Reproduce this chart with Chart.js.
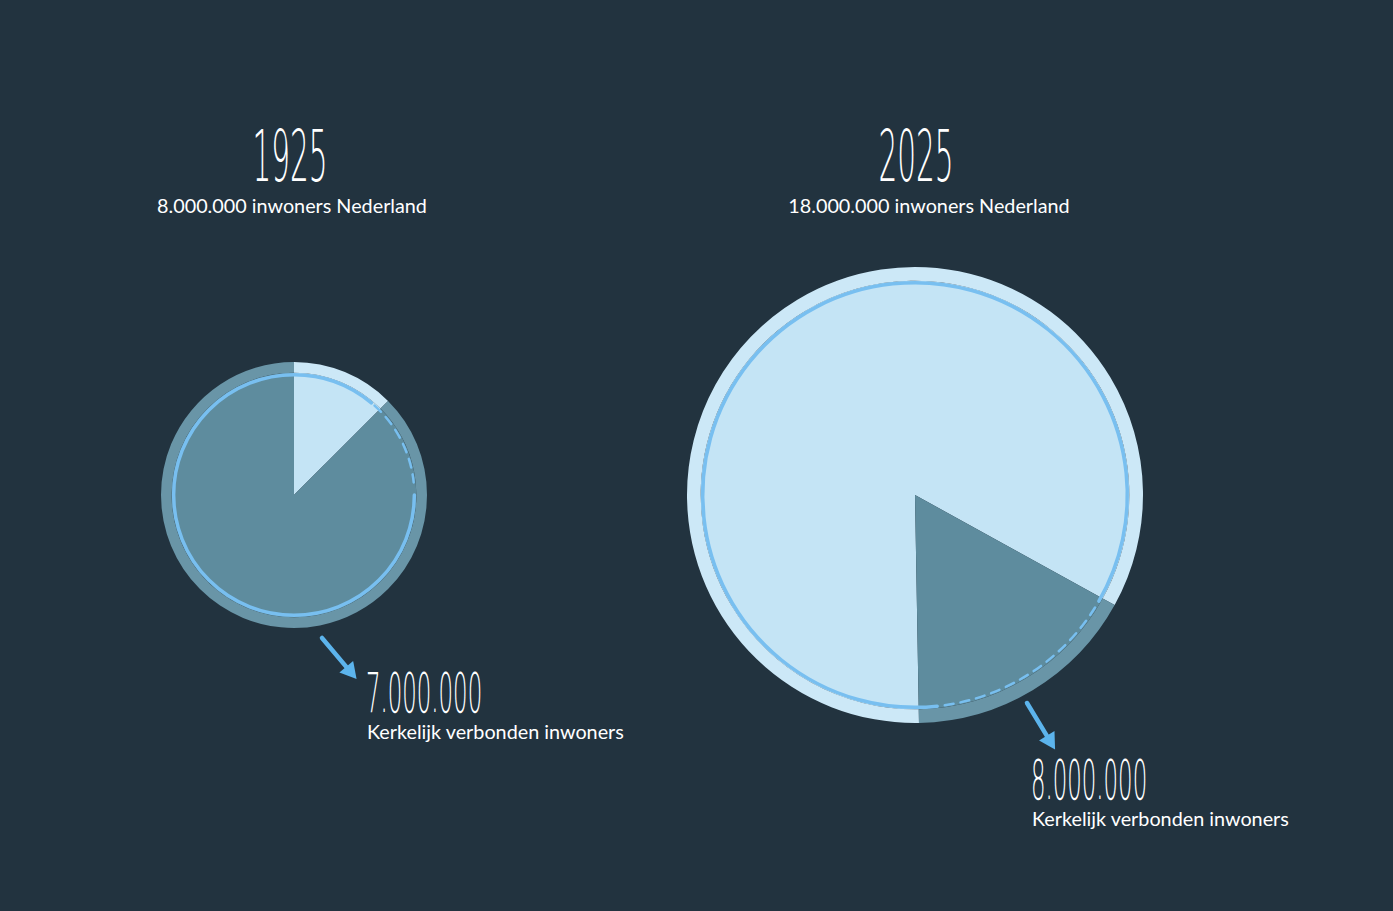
<!DOCTYPE html>
<html>
<head>
<meta charset="utf-8">
<script src="https://cdn.jsdelivr.net/npm/chart.js@4.4.1/dist/chart.umd.min.js"></script>
<style>
  html, body { margin: 0; padding: 0; }
  body { width: 1393px; height: 911px; background: #22333f; position: relative; overflow: hidden; font-family: 'Lato', sans-serif; color: #fff; }
  .box { position: absolute; }
  .year { position: absolute; font-family: 'DejaVu Sans'; font-weight: 200; font-size: 72px; line-height: 72px; white-space: nowrap; transform: translateX(-50%) scaleX(0.41); transform-origin: center top; text-align: center; }
  .sub { position: absolute; font-size: 19.8px; white-space: nowrap; transform: translateX(-50%); }
  .num { position: absolute; font-family: 'DejaVu Sans'; font-weight: 200; font-size: 55px; line-height: 55px; white-space: nowrap; transform: scaleX(0.415); transform-origin: left top; }
  .cap { position: absolute; font-size: 19.8px; white-space: nowrap; }
</style>
</head>
<body>
<div class="year" style="left:290px; top:120px;">1925</div>
<div class="sub" style="left:292px; top:193px;">8.000.000 inwoners Nederland</div>
<div class="year" style="left:916px; top:120px;">2025</div>
<div class="sub" style="left:929px; top:193px;">18.000.000 inwoners Nederland</div>
<div class="num" style="left:366px; top:666px;">7.000.000</div>
<div class="cap" style="left:367px; top:719px;">Kerkelijk verbonden inwoners</div>
<div class="num" style="left:1031px; top:753px;">8.000.000</div>
<div class="cap" style="left:1032px; top:806px;">Kerkelijk verbonden inwoners</div>

<div class="box" style="left:140px; top:340px; width:320px; height:360px;"><canvas id="pie1925"></canvas></div>
<div class="box" style="left:670px; top:250px; width:500px; height:520px;"><canvas id="pie2025"></canvas></div>

<script>
const sliceLabels = ['Niet kerkelijk', 'Kerkelijk verbonden'];
const shares1925 = [12.5, 87.5];
const shares2025 = [83.3, 16.7];

const lightBlue = '#c4e4f5';
const darkBlue = '#5e8c9e';
const lightRim = '#cce8f7';
const darkRim = '#6995a7';
const strokeBlue = '#78bff0';
const arrowBlue = '#5cb4ec';

// hand getekende cirkel + pijl
const sketchPlugin = {
  id: 'sketch',
  afterDatasetsDraw(chart, args, opts) {
    const arc = chart.getDatasetMeta(1).data[0];
    if (!arc) return;
    const { x, y, outerRadius } = arc.getProps(['x', 'y', 'outerRadius'], true);
    const r = outerRadius - opts.inset;
    const rad = d => (d - 90) * Math.PI / 180;
    const c = chart.ctx;
    c.save();
    c.strokeStyle = strokeBlue;
    c.lineCap = 'round';
    c.lineWidth = 3.5;
    c.beginPath();
    c.arc(x, y, r, rad(opts.solidFrom), rad(opts.solidTo));
    c.stroke();
    // gebroken stuk
    c.lineWidth = 2.5;
    c.setLineDash([9, 7]);
    c.beginPath();
    c.arc(x, y, r, rad(opts.dashFrom), rad(opts.dashTo));
    c.stroke();
    c.setLineDash([]);
    // pijl
    const [ax, ay, bx, by] = opts.arrow;
    const ang = Math.atan2(by - ay, bx - ax);
    c.strokeStyle = arrowBlue;
    c.fillStyle = arrowBlue;
    c.lineWidth = 4.5;
    c.beginPath();
    c.moveTo(ax, ay);
    c.lineTo(bx - 8 * Math.cos(ang), by - 8 * Math.sin(ang));
    c.stroke();
    c.beginPath();
    c.moveTo(bx + 4 * Math.cos(ang), by + 4 * Math.sin(ang));
    c.lineTo(bx - 12 * Math.cos(ang) + 9 * Math.sin(ang), by - 12 * Math.sin(ang) - 9 * Math.cos(ang));
    c.lineTo(bx - 12 * Math.cos(ang) - 9 * Math.sin(ang), by - 12 * Math.sin(ang) + 9 * Math.cos(ang));
    c.closePath();
    c.fill();
    c.restore();
  }
};

function makePie(id, shares, rotation, padding, rimWeight, sketch) {
  return new Chart(document.getElementById(id), {
    type: 'doughnut',
    data: {
      labels: sliceLabels,
      datasets: [
        { data: shares, backgroundColor: [lightRim, darkRim], borderWidth: 0, weight: rimWeight },
        { data: shares, backgroundColor: [lightBlue, darkBlue], borderWidth: 0, weight: 100 - rimWeight }
      ]
    },
    options: {
      responsive: true,
      maintainAspectRatio: false,
      animation: false,
      cutout: 0,
      rotation: rotation,
      layout: { padding: padding },
      plugins: { legend: { display: false }, tooltip: { enabled: false }, sketch: sketch }
    },
    plugins: [sketchPlugin]
  });
}

makePie('pie1925', shares1925, 0, { left: 21, top: 22, right: 33, bottom: 72 }, 8, {
  inset: 2, solidFrom: 90, solidTo: 400, dashFrom: 42, dashTo: 84,
  arrow: [182, 298, 214, 336]
});

makePie('pie2025', shares2025, 179, { left: 17, top: 17, right: 27, bottom: 47 }, 6, {
  inset: 2, solidFrom: 174, solidTo: 480, dashFrom: 122, dashTo: 172,
  arrow: [357, 453, 383, 496]
});
</script>
</body>
</html>
